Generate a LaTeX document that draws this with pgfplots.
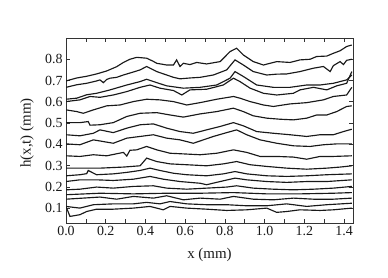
\documentclass[border=0pt]{standalone}
\usepackage{fontspec}
\setmainfont{Liberation Serif}
\usepackage{pgfplots}
\pgfplotsset{compat=1.18}
\begin{document}
\begin{tikzpicture}
\begin{axis}[name=ax, scale only axis, width=287bp, height=185bp,
  xmin=0, xmax=1.445, ymin=0.03, ymax=0.9,
  xtick={0,0.2,0.4,0.6,0.8,1.0,1.2,1.4}, minor x tick num=1,
  ytick={0.1,0.2,0.3,0.4,0.5,0.6,0.7,0.8},
  tick align=inside, major tick length=4bp, minor tick length=4bp,
  /pgf/number format/assume math mode=true,
  xticklabel style={/pgf/number format/fixed, /pgf/number format/fixed zerofill, /pgf/number format/precision=1},
  yticklabel style={/pgf/number format/fixed, /pgf/number format/fixed zerofill, /pgf/number format/precision=1},
  tick label style={font=\fontsize{14}{16}\selectfont, text=black!90},
  label style={font=\fontsize{15}{17}\selectfont, text=black!90},
  xlabel={x (mm)}, ylabel={h(x,t) (mm)},
  x label style={at={([yshift=-32bp]axis description cs:0.5,0)}, anchor=center},
  y label style={at={([xshift=-39bp,yshift=-2.5bp]axis description cs:0,0.5)}, anchor=center},
  axis line style={black!80, line width=0.9pt},
  every tick/.style={black!80, line width=0.7pt},
  curve/.style={black!90, line width=1.15pt, mark=none},
]
\addplot[curve] coordinates {(0,0.698) (0.054,0.712) (0.104,0.72) (0.154,0.731) (0.205,0.745) (0.255,0.765) (0.289,0.785) (0.322,0.800) (0.356,0.809) (0.406,0.805) (0.44,0.79) (0.457,0.781) (0.507,0.773) (0.541,0.773) (0.557,0.797) (0.574,0.766) (0.591,0.781) (0.624,0.775) (0.658,0.785) (0.708,0.778) (0.776,0.789) (0.826,0.836) (0.859,0.852) (0.893,0.820) (0.943,0.789) (0.994,0.773) (1.061,0.789) (1.128,0.785) (1.178,0.797) (1.229,0.800) (1.262,0.813) (1.313,0.815) (1.346,0.828) (1.38,0.840) (1.413,0.860) (1.439,0.867)};
\addplot[curve] coordinates {(0,0.668) (0.054,0.680) (0.104,0.687) (0.154,0.698) (0.171,0.703) (0.188,0.69) (0.205,0.705) (0.222,0.711) (0.255,0.715) (0.289,0.726) (0.339,0.740) (0.373,0.750) (0.406,0.766) (0.423,0.758) (0.457,0.742) (0.507,0.726) (0.541,0.715) (0.574,0.708) (0.624,0.712) (0.675,0.715) (0.742,0.726) (0.809,0.750) (0.851,0.797) (0.893,0.773) (0.943,0.742) (1.011,0.726) (1.061,0.73) (1.111,0.731) (1.178,0.742) (1.246,0.758) (1.296,0.766) (1.33,0.742) (1.346,0.770) (1.38,0.789) (1.397,0.775) (1.413,0.795) (1.439,0.800)};
\addplot[curve] coordinates {(0,0.612) (0.054,0.617) (0.104,0.633) (0.154,0.640) (0.222,0.656) (0.306,0.679) (0.373,0.695) (0.406,0.706) (0.457,0.690) (0.507,0.675) (0.591,0.664) (0.675,0.668) (0.759,0.679) (0.826,0.711) (0.851,0.742) (0.893,0.719) (0.96,0.679) (1.044,0.668) (1.128,0.668) (1.212,0.679) (1.279,0.679) (1.346,0.687) (1.413,0.703) (1.439,0.726)};
\addplot[curve] coordinates {(0,0.601) (0.07,0.609) (0.121,0.625) (0.171,0.621) (0.238,0.632) (0.306,0.648) (0.373,0.668) (0.423,0.679) (0.473,0.664) (0.541,0.653) (0.583,0.632) (0.624,0.656) (0.708,0.659) (0.792,0.679) (0.843,0.711) (0.876,0.695) (0.927,0.664) (0.994,0.640) (1.061,0.632) (1.145,0.640) (1.178,0.656) (1.246,0.668) (1.313,0.656) (1.363,0.675) (1.413,0.687) (1.439,0.742)};
\addplot[curve] coordinates {(0,0.562) (0.054,0.554) (0.087,0.546) (0.138,0.562) (0.205,0.581) (0.272,0.585) (0.339,0.601) (0.406,0.612) (0.473,0.609) (0.541,0.601) (0.608,0.585) (0.675,0.596) (0.759,0.612) (0.843,0.625) (0.876,0.617) (0.927,0.601) (0.994,0.585) (1.044,0.578) (1.128,0.590) (1.212,0.596) (1.296,0.609) (1.346,0.625) (1.413,0.632) (1.439,0.668)};
\addplot[curve] coordinates {(0,0.502) (0.07,0.502) (0.112,0.507) (0.121,0.49) (0.171,0.492) (0.238,0.502) (0.306,0.531) (0.373,0.546) (0.457,0.549) (0.524,0.538) (0.591,0.528) (0.675,0.543) (0.759,0.554) (0.843,0.570) (0.893,0.554) (0.943,0.534) (1.011,0.523) (1.078,0.518) (1.145,0.515) (1.212,0.523) (1.262,0.538) (1.313,0.538) (1.363,0.554) (1.413,0.578) (1.439,0.581)};
\addplot[curve] coordinates {(0,0.445) (0.07,0.440) (0.138,0.452) (0.171,0.468) (0.238,0.455) (0.306,0.476) (0.373,0.492) (0.44,0.496) (0.507,0.476) (0.574,0.460) (0.641,0.452) (0.708,0.468) (0.776,0.484) (0.843,0.502) (0.893,0.487) (0.96,0.460) (1.044,0.452) (1.128,0.445) (1.212,0.437) (1.279,0.445) (1.346,0.445) (1.397,0.460) (1.439,0.471)};
\addplot[curve] coordinates {(0,0.402) (0.07,0.398) (0.138,0.421) (0.188,0.413) (0.238,0.405) (0.306,0.429) (0.373,0.437) (0.44,0.445) (0.507,0.429) (0.574,0.421) (0.641,0.405) (0.742,0.437) (0.809,0.455) (0.859,0.468) (0.91,0.445) (0.977,0.421) (1.061,0.405) (1.145,0.393) (1.229,0.390) (1.296,0.398) (1.363,0.402) (1.439,0.402)};
\addplot[curve] coordinates {(0,0.346) (0.07,0.343) (0.138,0.351) (0.205,0.346) (0.289,0.362) (0.306,0.345) (0.322,0.372) (0.356,0.374) (0.406,0.390) (0.457,0.374) (0.524,0.358) (0.591,0.355) (0.675,0.351) (0.759,0.358) (0.843,0.374) (0.91,0.362) (0.977,0.343) (1.061,0.343) (1.145,0.340) (1.212,0.330) (1.279,0.343) (1.346,0.343) (1.439,0.346)};
\addplot[curve] coordinates {(0,0.288) (0.171,0.288) (0.289,0.293) (0.373,0.299) (0.406,0.335) (0.457,0.319) (0.524,0.308) (0.608,0.304) (0.708,0.299) (0.792,0.308) (0.859,0.319) (0.927,0.304) (1.011,0.296) (1.111,0.288) (1.212,0.283) (1.313,0.288) (1.38,0.293) (1.439,0.299)};
\addplot[curve] coordinates {(0,0.252) (0.07,0.257) (0.104,0.262) (0.112,0.277) (0.154,0.257) (0.238,0.261) (0.306,0.268) (0.373,0.277) (0.423,0.288) (0.473,0.277) (0.541,0.264) (0.608,0.257) (0.708,0.252) (0.792,0.261) (0.851,0.272) (0.91,0.261) (1.011,0.252) (1.111,0.249) (1.212,0.252) (1.313,0.257) (1.439,0.261)};
\addplot[curve] coordinates {(0,0.225) (0.07,0.233) (0.154,0.233) (0.238,0.230) (0.339,0.236) (0.423,0.249) (0.49,0.236) (0.574,0.225) (0.675,0.217) (0.708,0.210) (0.776,0.225) (0.851,0.241) (0.91,0.233) (1.011,0.225) (1.111,0.221) (1.212,0.225) (1.313,0.225) (1.439,0.233)};
\addplot[curve] coordinates {(0,0.186) (0.07,0.189) (0.154,0.199) (0.238,0.194) (0.339,0.202) (0.44,0.205) (0.507,0.194) (0.608,0.189) (0.708,0.194) (0.809,0.199) (0.859,0.205) (0.943,0.194) (1.044,0.189) (1.145,0.186) (1.246,0.189) (1.346,0.194) (1.439,0.202)};
\addplot[curve] coordinates {(0,0.163) (0.171,0.170) (0.339,0.167) (0.507,0.170) (0.675,0.170) (0.843,0.173) (1.011,0.167) (1.178,0.167) (1.346,0.170) (1.439,0.173)};
\addplot[curve] coordinates {(0,0.142) (0.171,0.152) (0.255,0.142) (0.339,0.155) (0.44,0.147) (0.507,0.158) (0.591,0.139) (0.675,0.147) (0.776,0.142) (0.843,0.155) (0.943,0.142) (1.044,0.139) (1.145,0.147) (1.246,0.142) (1.346,0.142) (1.439,0.147)};
\addplot[curve] coordinates {(0,0.108) (0.07,0.100) (0.138,0.116) (0.238,0.120) (0.339,0.120) (0.406,0.127) (0.473,0.120) (0.524,0.131) (0.608,0.120) (0.708,0.116) (0.809,0.116) (0.91,0.111) (1.011,0.111) (1.111,0.120) (1.212,0.108) (1.313,0.116) (1.439,0.123)};
\addplot[curve] coordinates {(0,0.108) (0.02,0.061) (0.07,0.069) (0.104,0.084) (0.154,0.095) (0.238,0.095) (0.339,0.100) (0.423,0.108) (0.49,0.092) (0.524,0.108) (0.608,0.100) (0.708,0.095) (0.809,0.089) (0.91,0.092) (1.011,0.100) (1.061,0.080) (1.111,0.084) (1.178,0.092) (1.279,0.089) (1.346,0.092) (1.439,0.100)};
\end{axis}
\path ([shift={(-66bp,-55bp)}]ax.south west) rectangle ([shift={(35bp,38bp)}]ax.north east);
\end{tikzpicture}
\end{document}
